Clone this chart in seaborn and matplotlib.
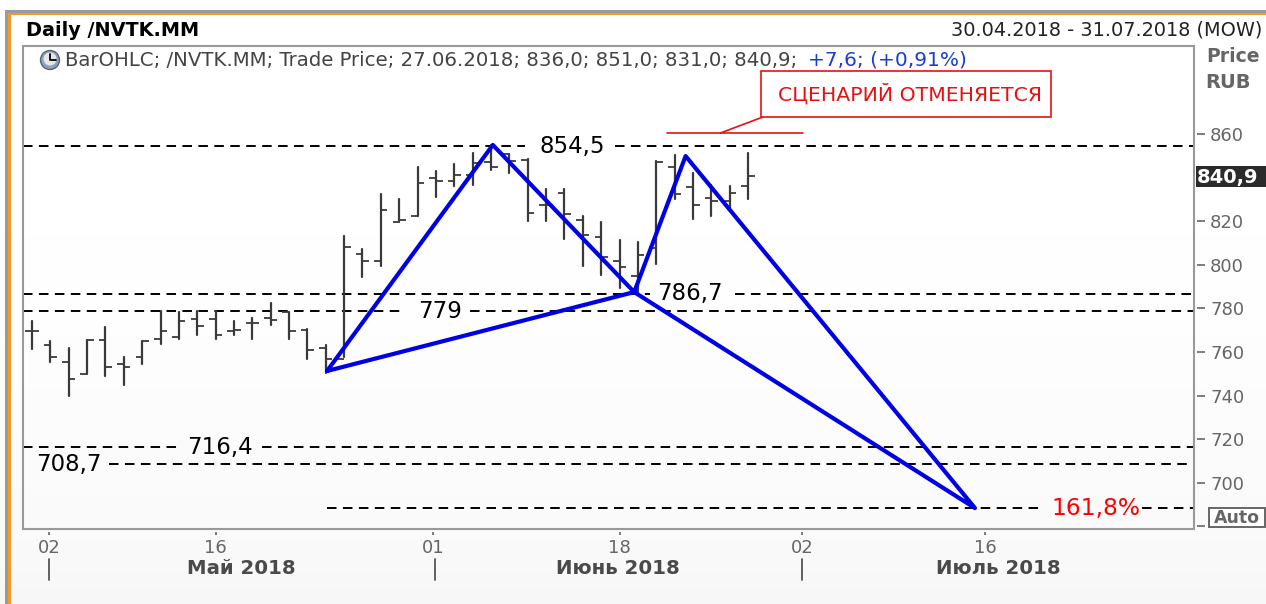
import numpy as np
import pandas as pd
import matplotlib
matplotlib.use("Agg")
import matplotlib.pyplot as plt
from matplotlib.patches import Rectangle, Circle
import seaborn as sns

# OHLC, one value per trading day
opens = [769.6, 763.2, 755.4, 749.9, 765.5, 754.5, 757.7, 766.0, 766.9, 775.1,
         775.1, 769.6, 773.3, 775.6, 778.4, 770.1, 761.8, 756.8, 805.0, 801.7,
         819.6, 822.4, 839.8, 838.4, 841.2, 847.2, 850.8, 848.1, 827.4, 832.9,
         820.6, 812.8, 801.7, 794.9, 807.7, 844.9, 835.7, 830.6, 829.3, 836.1]
highs = [774.2, 765.0, 761.8, 765.5, 771.5, 757.7, 765.0, 778.8, 778.4, 778.8,
         778.8, 774.2, 775.6, 782.5, 778.4, 770.6, 763.2, 813.2, 807.2, 832.5,
         830.2, 844.9, 843.0, 846.2, 851.3, 855.0, 850.8, 848.5, 834.8, 834.8,
         822.4, 819.6, 811.4, 810.5, 847.6, 850.4, 842.1, 836.6, 836.1, 851.3]
lows = [761.4, 755.4, 739.8, 749.9, 749.0, 744.9, 754.5, 763.7, 766.0, 767.8,
        766.0, 767.8, 766.0, 772.4, 766.0, 756.8, 750.4, 757.7, 794.4, 799.5,
        819.6, 822.4, 831.1, 836.1, 836.6, 843.5, 842.1, 820.1, 820.1, 811.8,
        799.5, 795.3, 789.4, 787.1, 800.4, 830.2, 821.0, 822.4, 826.1, 830.2]
closes = [769.6, 757.7, 747.6, 765.5, 753.1, 753.1, 765.0, 769.6, 774.2, 771.9,
          767.8, 770.1, 773.3, 774.7, 769.6, 760.9, 756.8, 808.2, 801.7, 825.1,
          820.6, 837.5, 838.4, 841.2, 846.7, 844.9, 847.6, 823.8, 827.4, 823.3,
          813.7, 803.6, 799.0, 804.5, 847.2, 832.5, 827.4, 829.3, 832.9, 840.9]

# Pattern drawn over the bars
pattern_x = [16.07, 25.1, 32.8, 35.6, 51.36, 32.8, 16.07]
pattern_y = [751.3, 855.0, 787.5, 849.9, 688.4, 787.5, 751.3]

# Dashed levels: price, start, end (in bar positions)
level_prices = [854.5, 854.5, 786.7, 786.7, 779, 779, 716.4, 716.4, 708.7, 688.4, 688.4]
level_start = [-0.49, 31.75, -0.49, 38.29, -0.49, 23.86, -0.49, 12.53, 4.19, 16.07, 60.46]
level_end = [26.85, 63.29, 33.66, 63.29, 20.32, 63.29, 7.95, 63.29, 63.29, 55.07, 63.29]

label_texts = ["854,5", "786,7", "779", "716,4", "708,7"]
label_x = [29.45, 35.85, 22.2, 10.25, 2.03]
label_y = [854.5, 786.7, 778.6, 716.2, 708.4]

# 840 sits under the last-price box in the original, so it has no visible label
price_ticks = [680, 700, 720, 740, 760, 780, 800, 820, 840, 860]
price_labels = ["", "700", "720", "740", "760", "780", "800", "820", "", "860"]
day_ticks = [0.93, 10, 21.85, 32, 41.95, 51.9]
day_labels = ["02", "16", "01", "18", "02", "16"]
month_names = ["Май 2018", "Июнь 2018", "Июль 2018"]

sns.set_theme(style="white")
plt.rcParams['font.family'] = ['DejaVu Sans']

fig = plt.figure(figsize=(12.66, 6.04), dpi=100)

# Background with the soft fade to grey and the orange frame
bg = fig.add_axes([0, 0, 1, 1], zorder=0)
fade = np.interp(np.arange(604), [0, 300, 560, 604], [1.0, 0.995, 0.975, 0.965])
bg.imshow(fade[:, None], cmap="gray", vmin=0, vmax=1, aspect="auto", extent=(0, 1266, 604, 0))
bg.add_patch(Rectangle((5, 10), 1261, 2.5, color="#9a9a9a", lw=0))
bg.add_patch(Rectangle((5, 10), 3, 594, color="#9a9a9a", lw=0))
bg.add_patch(Rectangle((8, 12.5), 1258, 2.5, color="#f39a2d", lw=0))
bg.add_patch(Rectangle((8, 12.5), 3, 592, color="#f39a2d", lw=0))
bg.set_axis_off()

ax = fig.add_axes([23 / 1266, 1 - 529 / 604, (1194 - 23) / 1266, (529 - 46) / 604], zorder=1)
ax.patch.set_alpha(0)

idx = np.arange(len(opens))
bars = pd.DataFrame({"bar": np.repeat(idx, 2), "price": np.column_stack([lows, highs]).ravel()})
sns.lineplot(data=bars, x="bar", y="price", units="bar", estimator=None,
             color="#3a3a3a", lw=1.6, legend=False, ax=ax, zorder=3)
ax.hlines(opens, idx - 0.36, idx, color="#3a3a3a", lw=1.3, zorder=3)
ax.hlines(closes, idx, idx + 0.36, color="#3a3a3a", lw=1.3, zorder=3)

ax.hlines(level_prices, level_start, level_end, color="black", lw=1.4,
          linestyles=[(0, (4.9, 3.3))], zorder=2)

pattern = pd.DataFrame({"x": pattern_x, "y": pattern_y, "order": np.arange(len(pattern_x))})
sns.lineplot(data=pattern, x="x", y="y", sort=False, estimator=None, color="#0000e6",
             lw=3, legend=False, ax=ax, zorder=5)

for txt, lx, ly in zip(label_texts, label_x, label_y):
    ax.text(lx, ly, txt, fontsize=16.5, color="black", ha="center", va="center", zorder=6)
ax.text(57.95, 688.2, "161,8%", fontsize=16.8, color="#ff0000", ha="center", va="center", zorder=6)

# Red note line
ax.plot([34.6, 42.0], [860.5, 860.5], color="#e81010", lw=1.2, zorder=4)
ax.plot([37.5, 39.8], [860.5, 867.8], color="#e81010", lw=1.2, zorder=4)

ax.set_xlim(-0.49, 63.29)
ax.set_ylim(678.8, 900.4)
ax.set_xlabel("")
ax.set_ylabel("")

for s in ["left", "top"]:
    ax.spines[s].set_visible(False)
ax.spines["right"].set_position(("outward", 2.2))
ax.spines["bottom"].set_position(("outward", 2.2))
ax.spines["right"].set_visible(False)
ax.spines["bottom"].set_visible(False)
ax.yaxis.tick_right()
ax.set_yticks(price_ticks, price_labels)
ax.set_xticks(day_ticks, day_labels)
ax.tick_params(axis="y", which="major", right=True, left=False, length=5.8, width=1.2,
               color="#666666", labelcolor="#666666", labelsize=13, pad=3.6)
ax.tick_params(axis="x", which="major", bottom=True, length=2.2, width=1.2,
               color="#666666", labelcolor="#666666", labelsize=13, pad=3)
ax.add_patch(Rectangle((0, 0), 1, 1, transform=ax.transAxes, fill=False, ec="#999999",
                       lw=1.5, clip_on=False, zorder=7))

# Everything around the plot, placed in image pixels
ov = fig.add_axes([0, 0, 1, 1], zorder=2)
ov.set_xlim(0, 1266)
ov.set_ylim(604, 0)
ov.patch.set_alpha(0)
ov.set_axis_off()

ov.text(26, 31, "Daily /NVTK.MM", fontsize=13.9, fontweight="bold", color="black", va="center")
ov.text(1262, 30, "30.04.2018 - 31.07.2018 (MOW)", fontsize=13.9, color="#222222", ha="right", va="center")
ov.add_patch(Circle((50, 60), 9.5, fc="#8fa3b8", ec="#56667a", lw=1))
ov.add_patch(Circle((50, 59), 6.5, fc="#e8e8e8", ec="none"))
ov.plot([50, 50, 56], [54, 60, 60], color="black", lw=1.3)
ov.text(65, 60, "BarOHLC; /NVTK.MM; Trade Price; 27.06.2018; 836,0; 851,0; 831,0; 840,9;",
        fontsize=14.25, color="#444444", va="center")
ov.text(808, 60, "+7,6; (+0,91%)", fontsize=14.5, color="#1a3fd0", va="center")

ov.text(1206, 57, "Price", fontsize=13.6, fontweight="bold", color="#666666", va="center")
ov.text(1205, 82, "RUB", fontsize=14, fontweight="bold", color="#666666", va="center")

ov.add_patch(Rectangle((1196, 166), 70, 21, color="#2b2b2b", lw=0))
ov.text(1197, 177, "840,9", fontsize=14, fontweight="bold", color="white", va="center")

ov.add_patch(Rectangle((1209, 507.5), 56, 19, fc="white", ec="#666666", lw=1.4))
ov.text(1237, 518, "Auto", fontsize=12.5, fontweight="bold", color="#666666", ha="center", va="center")

ov.add_patch(Rectangle((761, 71), 290, 46, fc="white", ec="#e81010", lw=1.2))
ov.text(910, 94, "СЦЕНАРИЙ ОТМЕНЯЕТСЯ", fontsize=14.7, color="#e81010", ha="center", va="center")

for mx in [49, 435, 802]:
    ov.plot([mx, mx], [559, 580], color="#555555", lw=1.3)
for name, cx in zip(month_names, [241, 618, 998]):
    ov.text(cx, 568, name, fontsize=14.2, fontweight="bold", color="#4a4a4a", ha="center", va="center")

fig.savefig("out.png", dpi=100)
